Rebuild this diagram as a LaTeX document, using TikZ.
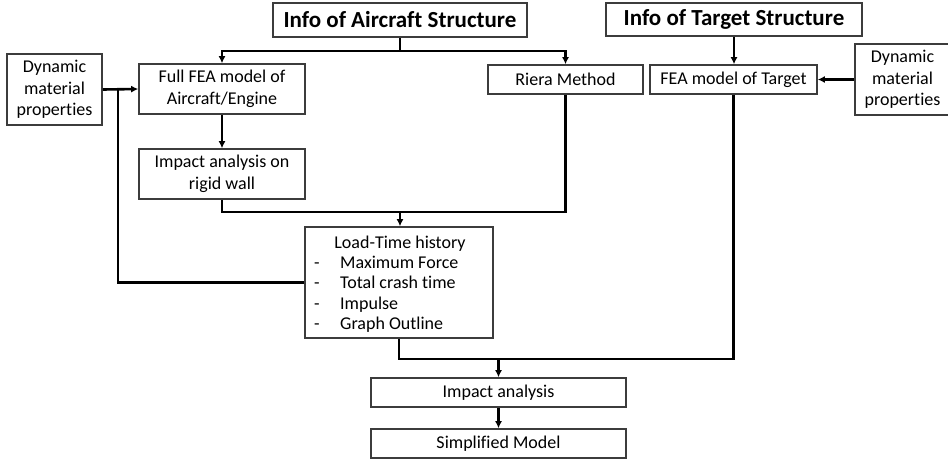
\documentclass[tikz,border=0pt]{standalone}
\usepackage{fontspec}
\setmainfont{Carlito}[Ligatures=NoCommon]
\usetikzlibrary{arrows.meta}
\definecolor{boxgray}{RGB}{60,60,60}
\tikzset{
  box/.style={draw=boxgray, line width=1.6pt, fill=white, inner sep=0pt, align=center,
    font=\fontsize{18}{21.5}\selectfont},
  titlebox/.style={box, font=\fontsize{23}{27}\selectfont\bfseries},
  conn/.style={draw=black, line width=2.6pt},
  arr/.style={conn, -{Latex[length=7pt,width=7pt]}},
  txt/.style={inner sep=0pt, font=\fontsize{18}{21.5}\selectfont}
}
\begin{document}
\begin{tikzpicture}[x=1pt, y=-1pt]
\useasboundingbox (0,0) rectangle (948,461);
\clip (0,0) rectangle (948,461);
% boxes
\node[titlebox, minimum width=254pt, minimum height=34pt] (air) at (400,20) {Info of Aircraft Structure};
\node[titlebox, minimum width=256pt, minimum height=33pt] (tgt) at (734,19.5) {Info of Target Structure};
\node[box, minimum width=95pt, minimum height=71pt] (dynL) at (54.5,89.5) {Dynamic\\material\\properties};
\node[box, minimum width=166pt, minimum height=50pt] (full) at (222,89) {Full FEA model of\\Aircraft/Engine};
\node[box, minimum width=166pt, minimum height=50pt] (rigid) at (222,174) {Impact analysis on\\rigid wall};
\node[box, minimum width=155pt, minimum height=29pt] (riera) at (565.5,79.5) {Riera Method};
\node[box, minimum width=167pt, minimum height=29pt] (fet) at (733.5,79.5) {FEA model of Target};
\node[box, minimum width=95pt, minimum height=71pt] (dynR) at (902.5,79.5) {Dynamic\\material\\properties};
\node[box, minimum width=188pt, minimum height=111pt] (load) at (399,282.5) {};
\node[box, minimum width=255pt, minimum height=29pt] (imp) at (498.5,392.5) {Impact analysis};
\node[box, minimum width=255pt, minimum height=29pt] (simp) at (498.5,443.5) {Simplified Model};
% load-time text
\node[txt, anchor=base] (lt0) at (400,248) {Load-Time history};
\node[txt, anchor=base] (d1) at (317,268) {-};
\node[txt, anchor=base] (d2) at (317,288.5) {-};
\node[txt, anchor=base] (d3) at (317,309) {-};
\node[txt, anchor=base] (d4) at (317,329.5) {-};
\node[txt, anchor=base west] (lt1) at (340,268) {Maximum Force};
\node[txt, anchor=base west] (lt2) at (340,288.5) {Total crash time};
\node[txt, anchor=base west] (lt3) at (340,309) {Impulse};
\node[txt, anchor=base west] (lt4) at (340,329.5) {Graph Outline};
% connectors
\coordinate (j1) at (400,51);
\draw[conn] (air.south) -- (j1);
\draw[arr] (j1) -| (full.north);
\draw[arr] (j1) -| (riera.north);
\draw[arr] (tgt.south) -- (tgt.south |- fet.north);
\draw[arr] (dynR.west) -- (fet.east);
\draw[arr] (dynL.east) -- (full.west);
\coordinate (fb) at (118,89);
\draw[conn] (load.west) -| (fb);
\draw[arr] (full.south) -- (rigid.north);
\coordinate (j2) at (400,212);
\draw[conn] (rigid.south) |- (riera.south |- j2) -- (riera.south);
\draw[arr] (j2) -- (j2 |- load.north);
\coordinate (j3) at (498.5,359);
\draw[conn] (load.south) |- (fet.south |- j3) -- (fet.south);
\draw[arr] (j3) -- (imp.north);
\draw[arr] (imp.south) -- (simp.north);
\end{tikzpicture}
\end{document}
